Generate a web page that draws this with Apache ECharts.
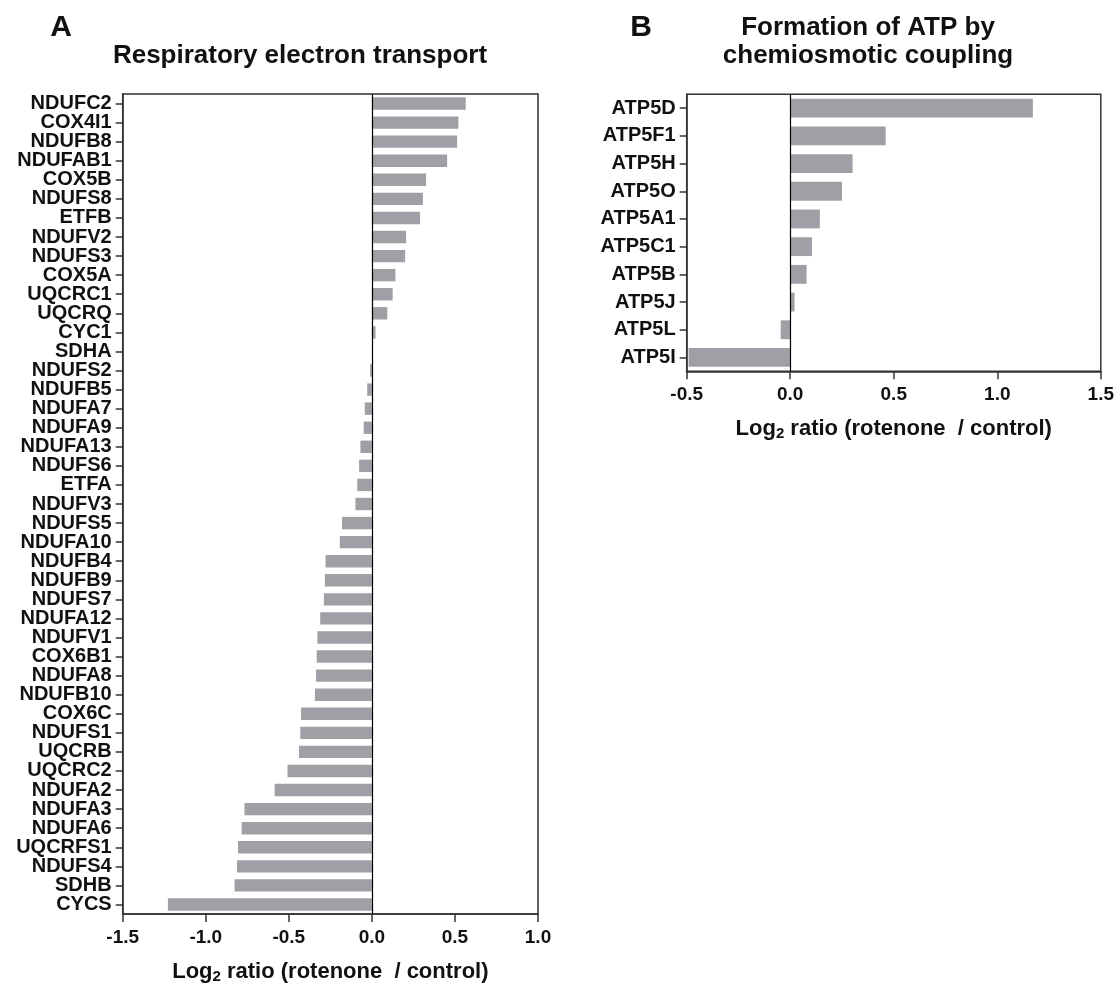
<!DOCTYPE html>
<html>
<head>
<meta charset="utf-8">
<script src="https://cdn.jsdelivr.net/npm/echarts@6/dist/echarts.min.js"></script>
<style>
  html, body { margin: 0; padding: 0; background: #fff; }
  #chart { width: 1117px; height: 989px; }
</style>
</head>
<body>
<div id="chart"></div>
<script>
// Panel A: respiratory electron transport proteins
const genesA = [
  'NDUFC2', 'COX4I1', 'NDUFB8', 'NDUFAB1', 'COX5B', 'NDUFS8', 'ETFB', 'NDUFV2',
  'NDUFS3', 'COX5A', 'UQCRC1', 'UQCRQ', 'CYC1', 'SDHA', 'NDUFS2', 'NDUFB5',
  'NDUFA7', 'NDUFA9', 'NDUFA13', 'NDUFS6', 'ETFA', 'NDUFV3', 'NDUFS5', 'NDUFA10',
  'NDUFB4', 'NDUFB9', 'NDUFS7', 'NDUFA12', 'NDUFV1', 'COX6B1', 'NDUFA8', 'NDUFB10',
  'COX6C', 'NDUFS1', 'UQCRB', 'UQCRC2', 'NDUFA2', 'NDUFA3', 'NDUFA6', 'UQCRFS1',
  'NDUFS4', 'SDHB', 'CYCS'
];
const log2A = [
  0.565, 0.521, 0.513, 0.453, 0.326, 0.307, 0.290, 0.206,
  0.200, 0.142, 0.125, 0.093, 0.022, 0.000, -0.011, -0.028,
  -0.043, -0.049, -0.069, -0.077, -0.088, -0.099, -0.180, -0.193,
  -0.279, -0.283, -0.289, -0.311, -0.328, -0.332, -0.336, -0.343,
  -0.426, -0.431, -0.439, -0.508, -0.585, -0.767, -0.784, -0.806,
  -0.812, -0.827, -1.228
];

// Panel B: ATP synthase subunits
const genesB = ['ATP5D', 'ATP5F1', 'ATP5H', 'ATP5O', 'ATP5A1', 'ATP5C1', 'ATP5B', 'ATP5J', 'ATP5L', 'ATP5I'];
const log2B = [1.172, 0.461, 0.301, 0.250, 0.143, 0.105, 0.079, 0.021, -0.046, -0.491];

const ticksA = { min: -1.5, max: 1.0, interval: 0.5 };
const ticksB = { min: -0.5, max: 1.5, interval: 0.5 };

const FONT = '"Liberation Sans", Arial, Helvetica, sans-serif';
const INK = '#111';
const AXIS = '#333';
const BAR = '#a09fa5';

const chart = echarts.init(document.getElementById('chart'), null, { renderer: 'canvas' });

function valueAxis(idx, t) {
  return {
    type: 'value', gridIndex: idx, min: t.min, max: t.max, interval: t.interval,
    axisLine: { show: true, onZero: false, lineStyle: { color: AXIS, width: 1.5 } },
    axisTick: { show: true, length: 8, lineStyle: { color: AXIS, width: 1.5 } },
    splitLine: { show: false },
    axisLabel: {
      color: INK, fontFamily: FONT, fontWeight: 'bold', fontSize: 19, margin: 14,
      formatter: v => v.toFixed(1)
    },
    name: '{a|Log}{s|2}{a| ratio (rotenone  / control)}',
    nameLocation: 'middle', nameGap: 45,
    nameTextStyle: {
      rich: {
        a: { fontFamily: FONT, fontWeight: 'bold', fontSize: 22, color: INK },
        s: { fontFamily: FONT, fontWeight: 'bold', fontSize: 15, color: INK, verticalAlign: 'bottom', padding: [10, 0, 0, 0] }
      }
    }
  };
}

function catAxis(idx, cats) {
  return {
    type: 'category', gridIndex: idx, data: cats, inverse: true,
    axisLine: { show: true, onZero: false, lineStyle: { color: AXIS, width: 1.5 } },
    axisTick: { show: true, alignWithLabel: true, length: 7, lineStyle: { color: AXIS, width: 1.5 } },
    axisLabel: { color: INK, fontFamily: FONT, fontWeight: 'bold', fontSize: 20, margin: 11, interval: 0 },
    splitLine: { show: false }
  };
}

function barSeries(idx, vals, gap) {
  return {
    type: 'bar', xAxisIndex: idx, yAxisIndex: idx, data: vals,
    barCategoryGap: gap,
    itemStyle: { color: BAR },
    silent: true,
    markLine: {
      silent: true, symbol: 'none', label: { show: false },
      lineStyle: { color: '#000', width: 1.2, type: 'solid' },
      data: [{ xAxis: 0 }]
    }
  };
}

chart.setOption({
  animation: false,
  backgroundColor: '#fff',
  grid: [
    { left: 122.7, top: 94, width: 415.3, height: 829.3, show: true, borderColor: AXIS, borderWidth: 1.5 },
    { left: 686.7, top: 94.3, width: 414.3, height: 277, show: true, borderColor: AXIS, borderWidth: 1.5 }
  ],
  xAxis: [valueAxis(0, ticksA), valueAxis(1, ticksB)],
  yAxis: [catAxis(0, genesA), catAxis(1, genesB)],
  series: [barSeries(0, log2A, '35%'), barSeries(1, log2B, '32%')],
  graphic: [
    { type: 'text', style: { x: 61, y: 28, text: 'A', font: 'bold 30px ' + FONT, fill: INK, textAlign: 'center', textVerticalAlign: 'middle' } },
    { type: 'text', style: { x: 300, y: 56, text: 'Respiratory electron transport', font: 'bold 26px ' + FONT, fill: INK, textAlign: 'center', textVerticalAlign: 'middle' } },
    { type: 'text', style: { x: 641, y: 28, text: 'B', font: 'bold 30px ' + FONT, fill: INK, textAlign: 'center', textVerticalAlign: 'middle' } },
    { type: 'text', style: { x: 868, y: 28, text: 'Formation of ATP by', font: 'bold 26px ' + FONT, fill: INK, textAlign: 'center', textVerticalAlign: 'middle' } },
    { type: 'text', style: { x: 868, y: 56, text: 'chemiosmotic coupling', font: 'bold 26px ' + FONT, fill: INK, textAlign: 'center', textVerticalAlign: 'middle' } }
  ]
});
</script>
</body>
</html>
